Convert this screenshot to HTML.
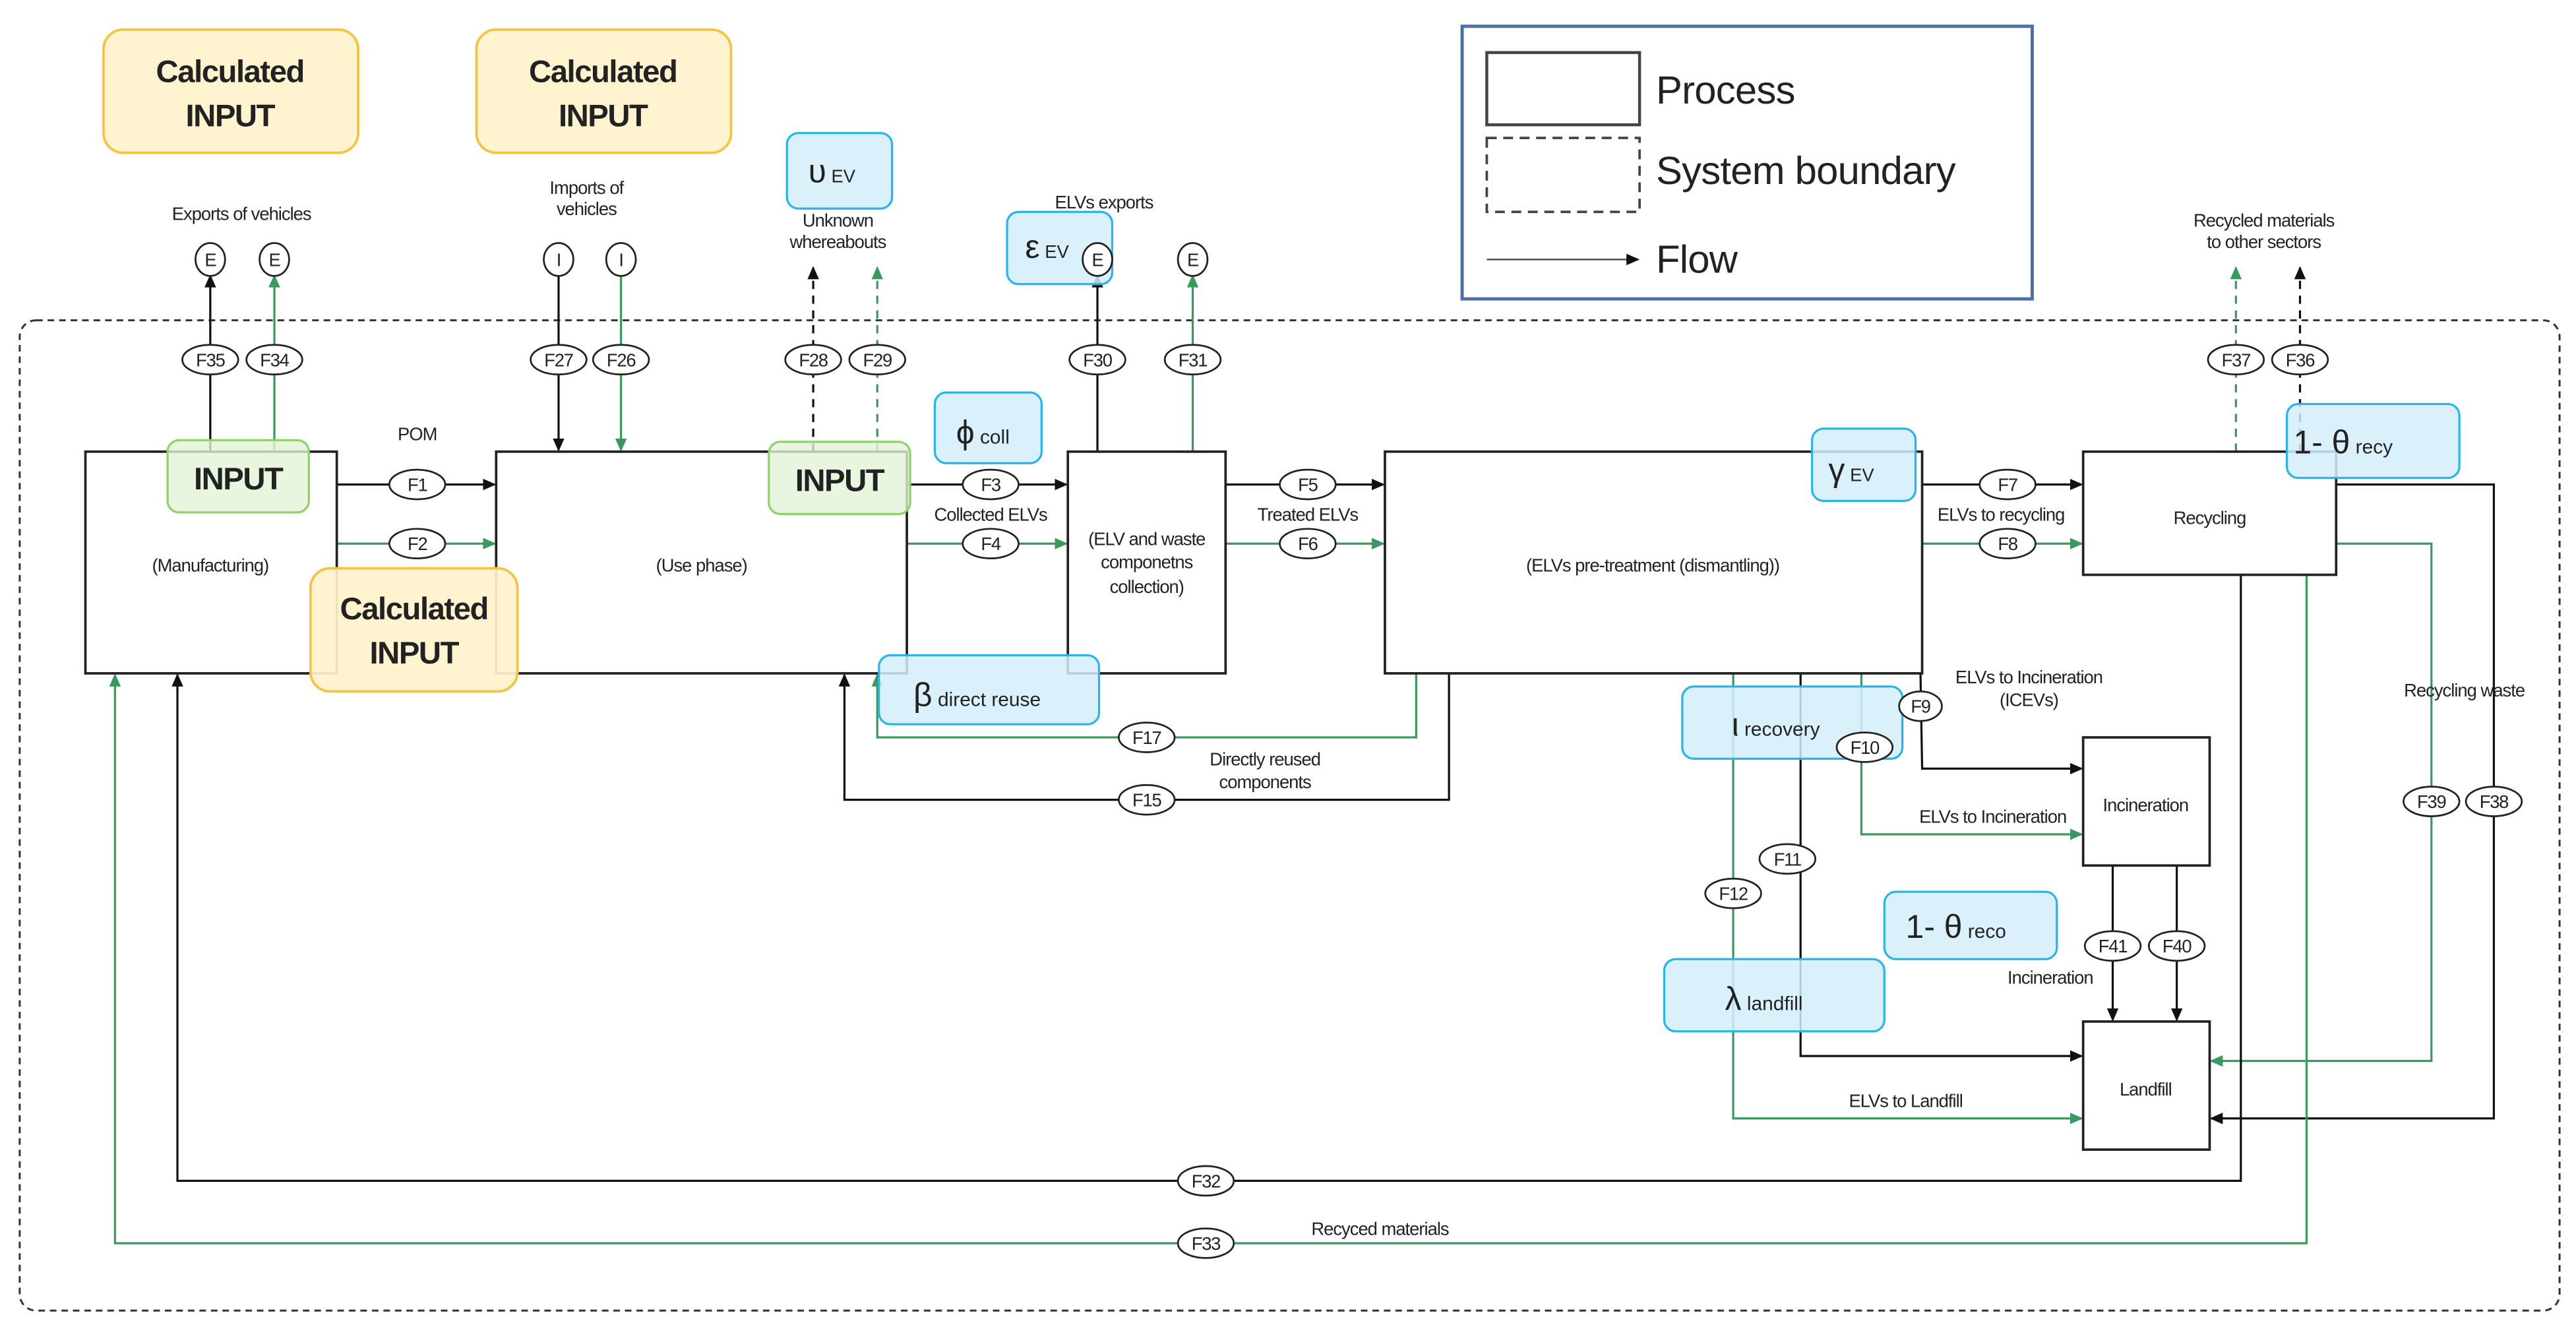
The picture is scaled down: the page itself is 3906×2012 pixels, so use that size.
<!DOCTYPE html>
<html><head><meta charset="utf-8"><style>
html,body{margin:0;padding:0;background:#fff;}
svg{display:block;}
text{font-family:"Liberation Sans",sans-serif;fill:#222;}
.s{font-size:11px;letter-spacing:-0.4px;}
.f{font-size:11px;letter-spacing:-0.5px;}
.big{font-size:19px;font-weight:bold;letter-spacing:-0.6px;}
.lg{font-size:24px;letter-spacing:-0.3px;}
</style></head><body>
<svg width="3906" height="2012" viewBox="0 0 1568 808" preserveAspectRatio="none" xmlns="http://www.w3.org/2000/svg">
<defs>
<marker id="ab" markerWidth="8" markerHeight="8" refX="7" refY="4" orient="auto" markerUnits="userSpaceOnUse"><path d="M0,0.5 L8,4 L0,7.5z" fill="#111"/></marker>
<marker id="ag" markerWidth="8" markerHeight="8" refX="7" refY="4" orient="auto" markerUnits="userSpaceOnUse"><path d="M0,0.5 L8,4 L0,7.5z" fill="#3a9a5e"/></marker>
</defs>
<rect width="1568" height="808" fill="#fff"/>
<!-- legend -->
<rect x="890" y="16" width="347" height="166" fill="#fff" stroke="#4a72a8" stroke-width="2"/>
<rect x="905" y="32" width="93" height="44" fill="none" stroke="#444" stroke-width="1.8"/>
<rect x="905" y="84" width="93" height="45" fill="none" stroke="#444" stroke-width="1.5" stroke-dasharray="6,4"/>
<line x1="905" y1="158" x2="997" y2="158" stroke="#444" stroke-width="1" marker-end="url(#ab)"/>
<text class="lg" x="1008" y="63">Process</text>
<text class="lg" x="1008" y="112">System boundary</text>
<text class="lg" x="1008" y="166">Flow</text>
<!-- boundary -->
<rect x="12" y="195" width="1546" height="603" rx="10" fill="none" stroke="#333" stroke-width="1.2" stroke-dasharray="4,3"/>

<g stroke-width="1.3" fill="none">
<line x1="128" y1="275" x2="128" y2="168" stroke="#111" marker-end="url(#ab)"/>
<line x1="167" y1="275" x2="167" y2="168" stroke="#3a9a5e" marker-end="url(#ag)"/>
<line x1="340" y1="167" x2="340" y2="274" stroke="#111" marker-end="url(#ab)"/>
<line x1="378" y1="167" x2="378" y2="274" stroke="#3a9a5e" marker-end="url(#ag)"/>
<line x1="495" y1="275" x2="495" y2="163" stroke="#111" stroke-dasharray="5,4" marker-end="url(#ab)"/>
<line x1="534" y1="275" x2="534" y2="163" stroke="#3a9a5e" stroke-dasharray="5,4" marker-end="url(#ag)"/>
<line x1="668" y1="275" x2="668" y2="168" stroke="#111" marker-end="url(#ab)"/>
<line x1="726" y1="275" x2="726" y2="168" stroke="#3a9a5e" marker-end="url(#ag)"/>
<line x1="1361" y1="275" x2="1361" y2="163" stroke="#3a9a5e" stroke-dasharray="5,4" marker-end="url(#ag)"/>
<line x1="1400" y1="275" x2="1400" y2="163" stroke="#111" stroke-dasharray="5,4" marker-end="url(#ab)"/>
<line x1="205" y1="295" x2="301" y2="295" stroke="#111" marker-end="url(#ab)"/>
<line x1="205" y1="331" x2="301" y2="331" stroke="#3a9a5e" marker-end="url(#ag)"/>
<line x1="552" y1="295" x2="649" y2="295" stroke="#111" marker-end="url(#ab)"/>
<line x1="552" y1="331" x2="649" y2="331" stroke="#3a9a5e" marker-end="url(#ag)"/>
<line x1="746" y1="295" x2="842" y2="295" stroke="#111" marker-end="url(#ab)"/>
<line x1="746" y1="331" x2="842" y2="331" stroke="#3a9a5e" marker-end="url(#ag)"/>
<line x1="1170" y1="295" x2="1267" y2="295" stroke="#111" marker-end="url(#ab)"/>
<line x1="1170" y1="331" x2="1267" y2="331" stroke="#3a9a5e" marker-end="url(#ag)"/>
<polyline points="862,410 862,449 534,449 534,411" stroke="#3a9a5e" marker-end="url(#ag)"/>
<polyline points="882,410 882,487 514,487 514,411" stroke="#111" marker-end="url(#ab)"/>
<polyline points="1169,410 1170,468 1267,468" stroke="#111" marker-end="url(#ab)"/>
<polyline points="1133,410 1133,508 1267,508" stroke="#3a9a5e" marker-end="url(#ag)"/>
<polyline points="1096,410 1096,643 1267,643" stroke="#111" marker-end="url(#ab)"/>
<polyline points="1055,410 1055,681 1267,681" stroke="#3a9a5e" marker-end="url(#ag)"/>
<line x1="1286" y1="527" x2="1286" y2="621" stroke="#111" marker-end="url(#ab)"/>
<line x1="1325" y1="527" x2="1325" y2="621" stroke="#111" marker-end="url(#ab)"/>
<polyline points="1422,331 1480,331 1480,646 1346,646" stroke="#3a9a5e" marker-end="url(#ag)"/>
<polyline points="1422,295 1518,295 1518,681 1346,681" stroke="#111" marker-end="url(#ab)"/>
<polyline points="1364,350 1364,719 108,719 108,411" stroke="#111" marker-end="url(#ab)"/>
<polyline points="1404,350 1404,757 70,757 70,411" stroke="#3a9a5e" marker-end="url(#ag)"/>
</g>

<g fill="#fff" stroke="#222" stroke-width="1.5">
<rect x="52" y="275" width="153" height="135"/>
<rect x="302" y="275" width="250" height="135"/>
<rect x="650" y="275" width="96" height="135"/>
<rect x="843" y="275" width="327" height="135"/>
<rect x="1268" y="275" width="154" height="75"/>
<rect x="1268" y="449" width="77" height="78"/>
<rect x="1268" y="622" width="77" height="78"/>
</g>
<g class="s" text-anchor="middle">
<text x="128" y="348">(Manufacturing)</text>
<text x="427" y="348">(Use phase)</text>
<text x="698" y="332">(ELV and waste</text>
<text x="698" y="346">componetns</text>
<text x="698" y="361">collection)</text>
<text x="1006" y="348">(ELVs pre-treatment (dismantling))</text>
<text x="1345" y="319">Recycling</text>
<text x="1306" y="494">Incineration</text>
<text x="1306" y="667">Landfill</text>
<text x="147" y="134">Exports of vehicles</text>
<text x="357" y="118">Imports of</text>
<text x="357" y="131">vehicles</text>
<text x="510" y="138">Unknown</text>
<text x="510" y="151">whereabouts</text>
<text x="672" y="127">ELVs exports</text>
<text x="1378" y="138">Recycled materials</text>
<text x="1378" y="151">to other sectors</text>
<text x="254" y="268">POM</text>
<text x="603" y="317">Collected ELVs</text>
<text x="796" y="317">Treated ELVs</text>
<text x="1218" y="317">ELVs to recycling</text>
<text x="770" y="466">Directly reused</text>
<text x="770" y="480">components</text>
<text x="1235" y="416">ELVs to Incineration</text>
<text x="1235" y="430">(ICEVs)</text>
<text x="1213" y="501">ELVs to Incineration</text>
<text x="1160" y="674">ELVs to Landfill</text>
<text x="1248" y="599">Incineration</text>
<text x="1500" y="424">Recycling waste</text>
<text x="840" y="752">Recyced materials</text>
</g>

<g fill="#fff2cc" fill-opacity="0.92" stroke="#f5c242" stroke-width="1.5">
<rect x="63" y="18" width="155" height="75" rx="12"/>
<rect x="290" y="18" width="155" height="75" rx="12"/>
<rect x="189" y="346" width="126" height="75" rx="12"/>
</g>
<g class="big" text-anchor="middle">
<text x="140" y="50">Calculated</text><text x="140" y="77">INPUT</text>
<text x="367" y="50">Calculated</text><text x="367" y="77">INPUT</text>
<text x="252" y="377">Calculated</text><text x="252" y="404">INPUT</text>
</g>
<g fill="#e2f4d8" fill-opacity="0.8" stroke="#8fd16a" stroke-width="1.3">
<rect x="102" y="268" width="86" height="44" rx="7"/>
<rect x="468" y="269" width="86" height="44" rx="7"/>
</g>
<g class="big" text-anchor="middle">
<text x="145" y="298">INPUT</text>
<text x="511" y="299">INPUT</text>
</g>
<g fill="#d4effa" fill-opacity="0.85" stroke="#29b5ea" stroke-width="1.3">
<rect x="479" y="81" width="64" height="46" rx="7"/>
<rect x="613" y="129" width="64" height="44" rx="7"/>
<rect x="569" y="239" width="65" height="43" rx="7"/>
<rect x="535" y="399" width="134" height="42" rx="7"/>
<rect x="1103" y="261" width="63" height="44" rx="7"/>
<rect x="1024" y="418" width="134" height="44" rx="7"/>
<rect x="1147" y="543" width="105" height="41" rx="7"/>
<rect x="1013" y="584" width="134" height="44" rx="7"/>
<rect x="1392" y="246" width="105" height="45" rx="7"/>
</g>
<g font-family="Liberation Serif,serif" fill="#111">
<text x="492" y="111" font-size="20">υ<tspan font-size="11" font-family="Liberation Sans,sans-serif"> EV</tspan></text>
<text x="624" y="157" font-size="20">ε<tspan font-size="11" font-family="Liberation Sans,sans-serif"> EV</tspan></text>
<text x="582" y="270" font-size="20">ϕ<tspan font-size="12" font-family="Liberation Sans,sans-serif"> coll</tspan></text>
<text x="556" y="430" font-size="20">β<tspan font-size="12" font-family="Liberation Sans,sans-serif"> direct reuse</tspan></text>
<text x="1113" y="293" font-size="20">γ<tspan font-size="11" font-family="Liberation Sans,sans-serif"> EV</tspan></text>
<text x="1054" y="448" font-size="20">ι<tspan font-size="12" font-family="Liberation Sans,sans-serif"> recovery</tspan></text>
<text x="1160" y="571" font-size="20">1- θ<tspan font-size="12" font-family="Liberation Sans,sans-serif"> reco</tspan></text>
<text x="1050" y="615" font-size="20">λ<tspan font-size="12" font-family="Liberation Sans,sans-serif"> landfill</tspan></text>
<text x="1396" y="276" font-size="20">1- θ<tspan font-size="12" font-family="Liberation Sans,sans-serif"> recy</tspan></text>
</g>

<g fill="#fff" stroke="#222" stroke-width="1.1">
<ellipse cx="128" cy="219" rx="17" ry="9"/><ellipse cx="167" cy="219" rx="17" ry="9"/>
<ellipse cx="340" cy="219" rx="17" ry="9"/><ellipse cx="378" cy="219" rx="17" ry="9"/>
<ellipse cx="495" cy="219" rx="17" ry="9"/><ellipse cx="534" cy="219" rx="17" ry="9"/>
<ellipse cx="668" cy="219" rx="17" ry="9"/><ellipse cx="726" cy="219" rx="17" ry="9"/>
<ellipse cx="1361" cy="219" rx="17" ry="9"/><ellipse cx="1400" cy="219" rx="17" ry="9"/>
<ellipse cx="254" cy="295" rx="17" ry="9"/><ellipse cx="254" cy="331" rx="17" ry="9"/>
<ellipse cx="603" cy="295" rx="17" ry="9"/><ellipse cx="603" cy="331" rx="17" ry="9"/>
<ellipse cx="796" cy="295" rx="17" ry="9"/><ellipse cx="796" cy="331" rx="17" ry="9"/>
<ellipse cx="1222" cy="295" rx="17" ry="9"/><ellipse cx="1222" cy="331" rx="17" ry="9"/>
<ellipse cx="698" cy="449" rx="17" ry="9"/><ellipse cx="698" cy="487" rx="17" ry="9"/>
<ellipse cx="1169" cy="430" rx="13" ry="9"/><ellipse cx="1135" cy="455" rx="17" ry="9"/>
<ellipse cx="1088" cy="523" rx="17" ry="9"/><ellipse cx="1055" cy="544" rx="17" ry="9"/>
<ellipse cx="1286" cy="576" rx="17" ry="9"/><ellipse cx="1325" cy="576" rx="17" ry="9"/>
<ellipse cx="1480" cy="488" rx="17" ry="9"/><ellipse cx="1518" cy="488" rx="17" ry="9"/>
<ellipse cx="734" cy="719" rx="17" ry="9"/><ellipse cx="734" cy="757" rx="17" ry="9"/>
<ellipse cx="128" cy="158" rx="9" ry="10"/><ellipse cx="167" cy="158" rx="9" ry="10"/>
<ellipse cx="340" cy="158" rx="9" ry="10"/><ellipse cx="378" cy="158" rx="9" ry="10"/>
<ellipse cx="668" cy="158" rx="9" ry="10"/><ellipse cx="726" cy="158" rx="9" ry="10"/>
</g>
<g class="f" text-anchor="middle">
<text x="128" y="223">F35</text><text x="167" y="223">F34</text>
<text x="340" y="223">F27</text><text x="378" y="223">F26</text>
<text x="495" y="223">F28</text><text x="534" y="223">F29</text>
<text x="668" y="223">F30</text><text x="726" y="223">F31</text>
<text x="1361" y="223">F37</text><text x="1400" y="223">F36</text>
<text x="254" y="299">F1</text><text x="254" y="335">F2</text>
<text x="603" y="299">F3</text><text x="603" y="335">F4</text>
<text x="796" y="299">F5</text><text x="796" y="335">F6</text>
<text x="1222" y="299">F7</text><text x="1222" y="335">F8</text>
<text x="698" y="453">F17</text><text x="698" y="491">F15</text>
<text x="1169" y="434">F9</text><text x="1135" y="459">F10</text>
<text x="1088" y="527">F11</text><text x="1055" y="548">F12</text>
<text x="1286" y="580">F41</text><text x="1325" y="580">F40</text>
<text x="1480" y="492">F39</text><text x="1518" y="492">F38</text>
<text x="734" y="723">F32</text><text x="734" y="761">F33</text>
<text x="128" y="162">E</text><text x="167" y="162">E</text>
<text x="340" y="162">I</text><text x="378" y="162">I</text>
<text x="668" y="162">E</text><text x="726" y="162">E</text>
</g>
</svg>
</body></html>
